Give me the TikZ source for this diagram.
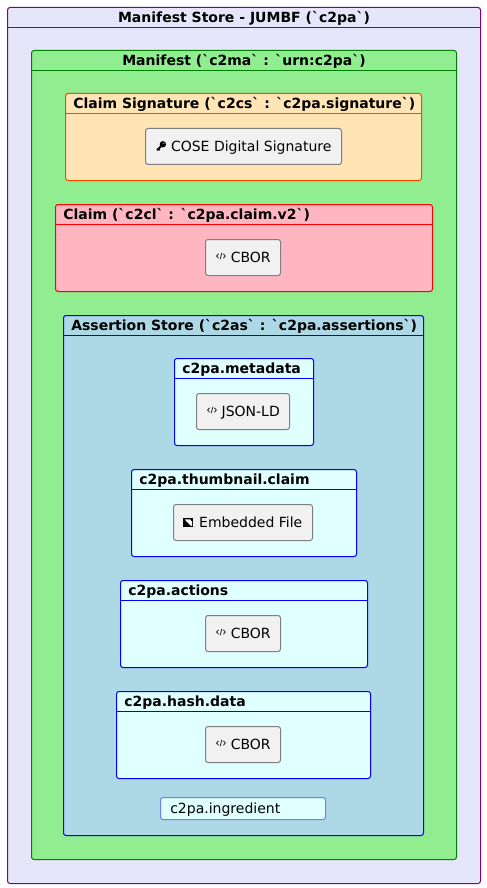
\documentclass[tikz,border=0pt]{standalone}
\usepackage{fontspec}
\newfontfamily\boxfont{DejaVu Sans}
\usetikzlibrary{positioning}

\definecolor{storefill}{HTML}{E6E6FA}
\definecolor{manifestfill}{HTML}{90EE90}
\definecolor{sigfill}{HTML}{FFE4B5}
\definecolor{claimfill}{HTML}{FFB6C1}
\definecolor{assertfill}{HTML}{ADD8E6}
\definecolor{itemfill}{HTML}{E0FFFF}
\definecolor{leaffill}{HTML}{F1F1F1}
\definecolor{leafline}{HTML}{7F7F7F}
\definecolor{ingredline}{HTML}{6B7FFF}
\definecolor{sigline}{HTML}{FF4500}
\definecolor{manifestline}{HTML}{008000}
\definecolor{storeline}{HTML}{800080}

\tikzset{
    frame/.style={draw, rectangle, rounded corners=1.9pt, outer sep=0pt, line width=0.75pt, inner sep=0pt, minimum height=65.25pt},
    title/.style={font=\boxfont\fontsize{10.5pt}{12pt}\selectfont\bfseries, inner sep=0pt, text height=8pt, text depth=0.7pt},
    plain/.style={font=\boxfont\fontsize{10.5pt}{12pt}\selectfont, text height=7.7pt, text depth=0pt},
    leaf/.style={plain, draw=leafline, fill=leaffill, rectangle, rounded corners=1.9pt, outer sep=0pt, line width=0.75pt, inner sep=0pt, minimum height=27pt, execute at begin node=\hspace*{11.6pt}},
    code icon/.pic={
        \draw[line width=0.6pt, black!85] (2.4,-2.2) -- (0.4,0) -- (2.4,2.2);
        \draw[line width=0.6pt, black!85] (5.7,-3.2) -- (4,3.2);
        \draw[line width=0.6pt, black!85] (7.2,-2.2) -- (9.2,0) -- (7.2,2.2);
    },
    key icon/.pic={
        \fill[black] (6.7,-2.2) circle (3.2);
        \fill[white] (7.7,-3.2) circle (0.6);
        \draw[line width=1.5pt, black] (5.2,-0.7) -- (0.9,3.6);
        \draw[line width=0.9pt, black] (2.2,2.4) -- (3.6,3.8);
    },
    image icon/.pic={
        \fill[black] (0,-4.5) rectangle (10,4.5);
        \fill[white] (1.2,-3.2) -- (6.6,-3.2) -- (8.8,-0.6) -- (8.8,3.3) -- (7.6,3.3) -- cycle;
    }
}

\begin{document}
\begin{tikzpicture}[x=0.75pt, y=-0.75pt]
    \useasboundingbox (0,0) rectangle (486,888);
    % Manifest store
    \node[frame, draw=storeline, fill=storefill, minimum width=354.75pt, minimum height=657pt] (store) at (244, 445.5) {};
    \node[title] (storetitle) at (244, 17.5) {Manifest Store - JUMBF (`c2pa`)};
    \draw[storeline, line width=0.75pt] ([yshift=-15pt]store.north west) -- ([yshift=-15pt]store.north east);
    % Manifest
    \node[frame, draw=manifestline, fill=manifestfill, minimum width=318.75pt, minimum height=606.75pt] (manifest) at (244, 455) {};
    \node[title] (manifesttitle) at (244, 60.5) {Manifest (`c2ma` : `urn:c2pa`)};
    \draw[manifestline, line width=0.75pt] ([yshift=-15pt]manifest.north west) -- ([yshift=-15pt]manifest.north east);
    % Claim signature
    \node[frame, draw=sigline, fill=sigfill, minimum width=267pt] (sig) at (243.5, 137) {};
    \node[title, anchor=west] (sigtitle) at (73, 103.5) {Claim Signature (`c2cs` : `c2pa.signature`)};
    \draw[sigline, line width=0.75pt] ([yshift=-15pt]sig.north west) -- ([yshift=-15pt]sig.north east);
    \node[leaf, minimum width=147pt] (cose) at (243.5, 146.5) {COSE Digital Signature};
    \pic at ([xshift=8pt]cose.west) {key icon};
    % Claim
    \node[frame, draw=red, fill=claimfill, minimum width=282.75pt] (claim) at (244, 248) {};
    \node[title, anchor=west] (claimtitle) at (63, 214.5) {Claim (`c2cl` : `c2pa.claim.v2`)};
    \draw[red, line width=0.75pt] ([yshift=-15pt]claim.north west) -- ([yshift=-15pt]claim.north east);
    \node[leaf, minimum width=56.25pt] (claimcbor) at (243, 257.5) {CBOR};
    \pic at ([xshift=8pt, yshift=1.1pt]claimcbor.west) {code icon};
    % Assertion store
    \node[frame, draw=blue, fill=assertfill, minimum width=270pt, minimum height=390pt] (assert) at (243.5, 575.5) {};
    \node[title, anchor=west] (asserttitle) at (71, 325.5) {Assertion Store (`c2as` : `c2pa.assertions`)};
    \draw[blue, line width=0.75pt] ([yshift=-15pt]assert.north west) -- ([yshift=-15pt]assert.north east);
    % c2pa.metadata
    \node[frame, draw=blue, fill=itemfill, minimum width=104.25pt] (metadata) at (244, 402) {};
    \node[title, anchor=west] (metadatatitle) at (182, 368.5) {c2pa.metadata};
    \draw[blue, line width=0.75pt] ([yshift=-15pt]metadata.north west) -- ([yshift=-15pt]metadata.north east);
    \node[leaf, minimum width=69.75pt] (jsonld) at (243, 411.5) {JSON-LD};
    \pic at ([xshift=8pt, yshift=1.1pt]jsonld.west) {code icon};
    % c2pa.thumbnail.claim
    \node[frame, draw=blue, fill=itemfill, minimum width=168.75pt] (thumbnail) at (244, 513) {};
    \node[title, anchor=west] (thumbnailtitle) at (139, 479.5) {c2pa.thumbnail.claim};
    \draw[blue, line width=0.75pt] ([yshift=-15pt]thumbnail.north west) -- ([yshift=-15pt]thumbnail.north east);
    \node[leaf, minimum width=104.25pt] (embedded) at (243, 522.5) {Embedded File};
    \pic at ([xshift=7.4pt]embedded.west) {image icon};
    % c2pa.actions
    \node[frame, draw=blue, fill=itemfill, minimum width=185.25pt] (actions) at (244, 624) {};
    \node[title, anchor=west] (actionstitle) at (128, 590.5) {c2pa.actions};
    \draw[blue, line width=0.75pt] ([yshift=-15pt]actions.north west) -- ([yshift=-15pt]actions.north east);
    \node[leaf, minimum width=56.25pt] (actionscbor) at (243, 633.5) {CBOR};
    \pic at ([xshift=8pt, yshift=1.1pt]actionscbor.west) {code icon};
    % c2pa.hash.data
    \node[frame, draw=blue, fill=itemfill, minimum width=190.5pt] (hash) at (243.5, 735) {};
    \node[title, anchor=west] (hashtitle) at (124, 701.5) {c2pa.hash.data};
    \draw[blue, line width=0.75pt] ([yshift=-15pt]hash.north west) -- ([yshift=-15pt]hash.north east);
    \node[leaf, minimum width=56.25pt] (hashcbor) at (243, 744.5) {CBOR};
    \pic at ([xshift=8pt, yshift=1.1pt]hashcbor.west) {code icon};
    % c2pa.ingredient
    \node[frame, draw=ingredline, fill=itemfill, minimum width=123.75pt, minimum height=16.5pt] (ingredient) at (243, 808.5) {};
    \node[plain, anchor=west, inner sep=0pt] (ingredienttext) at (170, 808.5) {c2pa.ingredient};
\end{tikzpicture}
\end{document}
